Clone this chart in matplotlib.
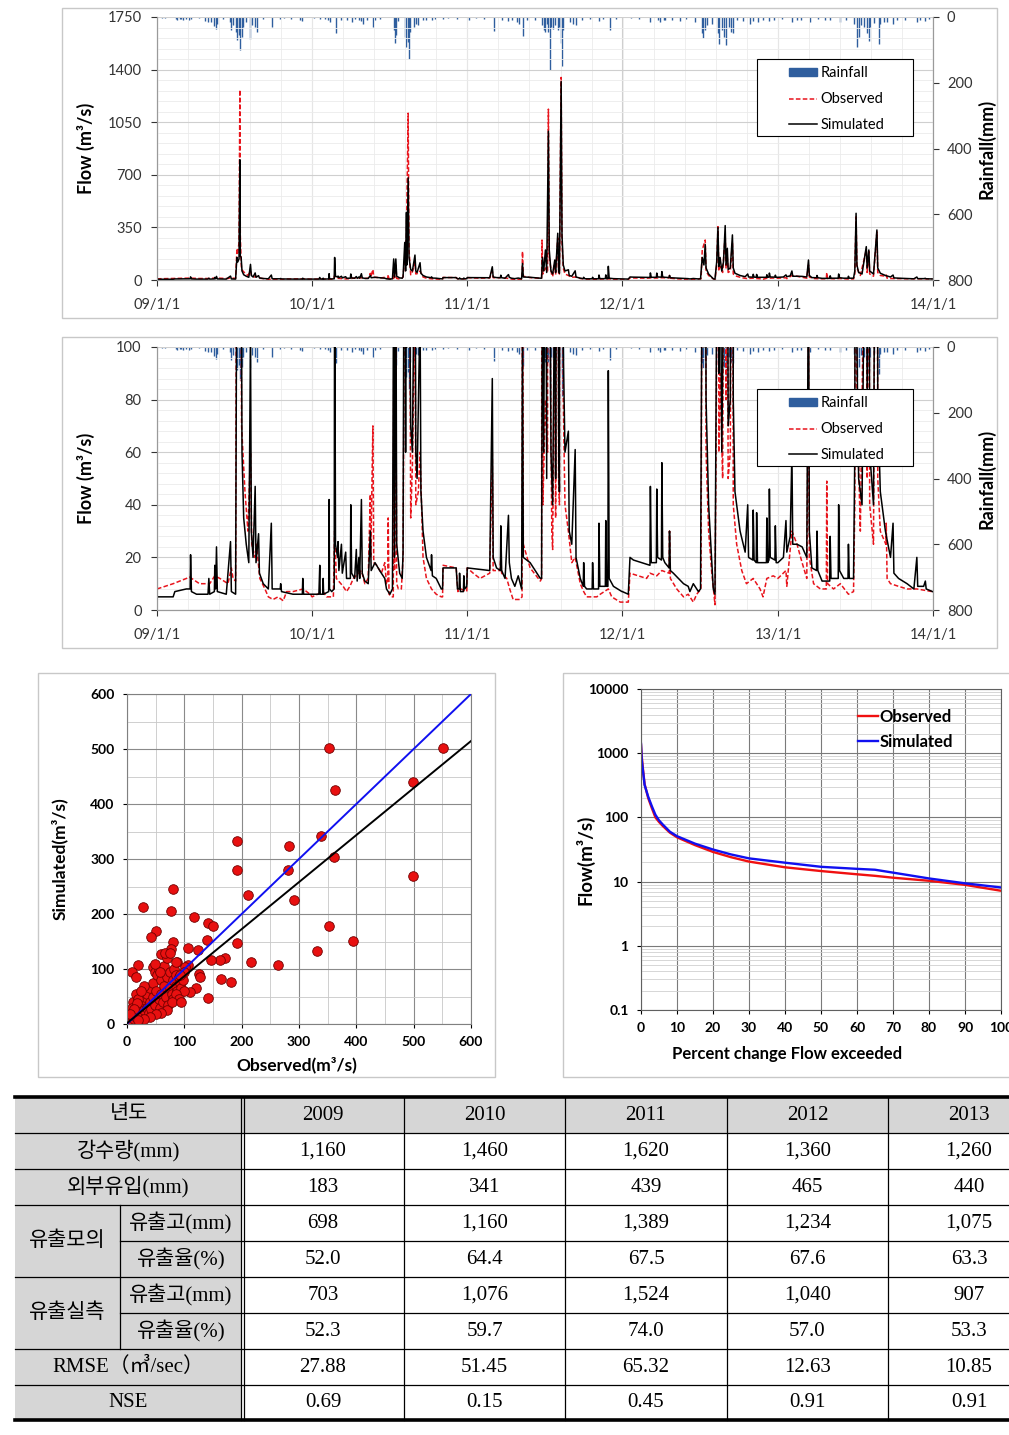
import numpy as np
import matplotlib
matplotlib.use('Agg')
import matplotlib.pyplot as plt
import matplotlib.dates as mdates
from matplotlib.patches import Rectangle
from matplotlib.lines import Line2D
from matplotlib.ticker import MultipleLocator, LogLocator, FuncFormatter, NullFormatter, FixedLocator

plt.rcParams['font.family'] = ['Lato', 'DejaVu Sans']

W, H = 1009, 1435

# daily flow: (year, day of year, m3/s)
sim_pts = [
    (2009, 0, 5), (2009, 38, 5), (2009, 42, 7), (2009, 69, 8), (2009, 78, 8), (2009, 79, 21), (2009, 81, 7),
    (2009, 93, 6), (2009, 120, 6), (2009, 122, 12), (2009, 124, 6), (2009, 135, 7), (2009, 136, 17), (2009, 138, 8),
    (2009, 140, 24), (2009, 142, 7), (2009, 163, 6), (2009, 173, 26), (2009, 175, 7), (2009, 185, 6), (2009, 188, 150),
    (2009, 190, 120), (2009, 193, 140), (2009, 195, 800), (2009, 196, 160), (2009, 198, 150), (2009, 200, 60),
    (2009, 204, 35), (2009, 210, 25), (2009, 216, 18), (2009, 220, 104), (2009, 222, 30), (2009, 226, 20),
    (2009, 231, 47), (2009, 233, 18), (2009, 239, 29), (2009, 241, 14), (2009, 250, 10), (2009, 262, 8),
    (2009, 269, 33), (2009, 271, 8), (2009, 290, 8), (2009, 291, 10), (2009, 293, 7), (2009, 320, 6), (2009, 342, 6),
    (2009, 343, 12), (2009, 345, 6), (2009, 364, 6),
    (2010, 0, 6), (2010, 16, 6), (2010, 18, 17), (2010, 19, 6), (2010, 25, 6), (2010, 26, 12), (2010, 27, 6),
    (2010, 39, 7), (2010, 40, 42), (2010, 41, 8), (2010, 46, 7), (2010, 52, 8), (2010, 53, 150), (2010, 55, 25),
    (2010, 60, 20), (2010, 61, 26), (2010, 63, 15), (2010, 69, 25), (2010, 71, 14), (2010, 79, 22), (2010, 81, 12),
    (2010, 90, 12), (2010, 91, 40), (2010, 93, 14), (2010, 100, 12), (2010, 104, 23), (2010, 106, 11), (2010, 110, 20),
    (2010, 112, 12), (2010, 116, 42), (2010, 118, 14), (2010, 124, 11), (2010, 132, 10), (2010, 137, 30),
    (2010, 139, 15), (2010, 148, 18), (2010, 159, 15), (2010, 171, 12), (2010, 175, 8), (2010, 183, 6), (2010, 189, 8),
    (2010, 192, 140), (2010, 194, 20), (2010, 197, 140), (2010, 199, 25), (2010, 206, 14), (2010, 212, 12),
    (2010, 214, 22), (2010, 218, 250), (2010, 220, 60), (2010, 222, 450), (2010, 223, 100), (2010, 226, 680),
    (2010, 228, 150), (2010, 232, 70), (2010, 236, 60), (2010, 242, 166), (2010, 244, 60), (2010, 247, 50),
    (2010, 254, 115), (2010, 256, 45), (2010, 261, 30), (2010, 269, 20), (2010, 280, 15), (2010, 281, 21),
    (2010, 283, 13), (2010, 292, 12), (2010, 304, 8), (2010, 307, 8), (2010, 308, 16), (2010, 339, 16), (2010, 342, 8),
    (2010, 346, 8), (2010, 347, 14), (2010, 349, 7), (2010, 356, 7), (2010, 357, 13), (2010, 359, 8), (2010, 364, 9),
    (2011, 0, 16), (2011, 53, 15), (2011, 59, 88), (2011, 61, 20), (2011, 69, 16), (2011, 78, 15), (2011, 79, 32),
    (2011, 81, 15), (2011, 89, 12), (2011, 97, 36), (2011, 99, 18), (2011, 104, 12), (2011, 112, 9), (2011, 120, 13),
    (2011, 128, 8), (2011, 130, 110), (2011, 132, 20), (2011, 148, 18), (2011, 172, 12), (2011, 175, 12),
    (2011, 177, 150), (2011, 180, 60), (2011, 184, 200), (2011, 187, 50), (2011, 191, 990), (2011, 193, 200),
    (2011, 197, 60), (2011, 201, 40), (2011, 206, 133), (2011, 208, 50), (2011, 213, 311), (2011, 215, 70),
    (2011, 217, 45), (2011, 221, 1320), (2011, 223, 300), (2011, 226, 100), (2011, 230, 60), (2011, 238, 68),
    (2011, 240, 30), (2011, 246, 25), (2011, 254, 61), (2011, 256, 20), (2011, 266, 12), (2011, 273, 9),
    (2011, 274, 18), (2011, 276, 9), (2011, 281, 8), (2011, 294, 8), (2011, 295, 18), (2011, 297, 8), (2011, 309, 8),
    (2011, 310, 33), (2011, 312, 9), (2011, 325, 9), (2011, 326, 34), (2011, 328, 9), (2011, 331, 9), (2011, 332, 91),
    (2011, 334, 12), (2011, 344, 9), (2011, 364, 7),
    (2012, 0, 7), (2012, 14, 6), (2012, 18, 20), (2012, 26, 19), (2012, 65, 17), (2012, 66, 47), (2012, 68, 18),
    (2012, 80, 18), (2012, 81, 46), (2012, 83, 20), (2012, 92, 19), (2012, 93, 56), (2012, 95, 20), (2012, 100, 18),
    (2012, 110, 16), (2012, 111, 30), (2012, 113, 15), (2012, 120, 14), (2012, 144, 10), (2012, 155, 9),
    (2012, 159, 7), (2012, 167, 10), (2012, 179, 7), (2012, 184, 8), (2012, 188, 150), (2012, 192, 100),
    (2012, 195, 236), (2012, 197, 80), (2012, 203, 40), (2012, 210, 20), (2012, 214, 8), (2012, 218, 6),
    (2012, 222, 120), (2012, 225, 349), (2012, 227, 90), (2012, 230, 150), (2012, 234, 60), (2012, 238, 120),
    (2012, 242, 362), (2012, 244, 100), (2012, 247, 211), (2012, 249, 70), (2012, 254, 80), (2012, 259, 300),
    (2012, 261, 80), (2012, 265, 45), (2012, 277, 30), (2012, 289, 22), (2012, 295, 40), (2012, 297, 20),
    (2012, 307, 19), (2012, 308, 38), (2012, 310, 19), (2012, 315, 18), (2012, 316, 37), (2012, 318, 18),
    (2012, 328, 18), (2012, 339, 18), (2012, 340, 35), (2012, 342, 18), (2012, 345, 19), (2012, 346, 46),
    (2012, 348, 20), (2012, 359, 19), (2012, 360, 32), (2012, 362, 18),
    (2013, 0, 18), (2013, 13, 20), (2013, 19, 34), (2013, 21, 22), (2013, 29, 28), (2013, 33, 60), (2013, 35, 25),
    (2013, 45, 25), (2013, 57, 24), (2013, 68, 20), (2013, 72, 133), (2013, 74, 30), (2013, 80, 16), (2013, 91, 15),
    (2013, 92, 30), (2013, 94, 15), (2013, 104, 11), (2013, 122, 11), (2013, 123, 28), (2013, 125, 12),
    (2013, 142, 12), (2013, 143, 40), (2013, 145, 15), (2013, 155, 12), (2013, 165, 12), (2013, 166, 25),
    (2013, 168, 12), (2013, 178, 12), (2013, 181, 60), (2013, 184, 444), (2013, 186, 100), (2013, 190, 50),
    (2013, 198, 40), (2013, 208, 222), (2013, 210, 80), (2013, 214, 200), (2013, 216, 60), (2013, 225, 40),
    (2013, 233, 333), (2013, 235, 80), (2013, 241, 45), (2013, 253, 30), (2013, 265, 20), (2013, 271, 33),
    (2013, 273, 14), (2013, 284, 12), (2013, 304, 10), (2013, 320, 8), (2013, 327, 20), (2013, 329, 9),
    (2013, 343, 9), (2013, 347, 11), (2013, 349, 8), (2013, 364, 7),
]

obs_pts = [
    (2009, 0, 8), (2009, 38, 10), (2009, 77, 12.5), (2009, 100, 10), (2009, 124, 10), (2009, 136, 13),
    (2009, 148, 12), (2009, 167, 10), (2009, 175, 16), (2009, 179, 12), (2009, 185, 11), (2009, 188, 200),
    (2009, 190, 180), (2009, 193, 250), (2009, 195, 1266), (2009, 196, 300), (2009, 198, 120), (2009, 199, 70),
    (2009, 207, 45), (2009, 214, 30), (2009, 220, 60), (2009, 223, 25), (2009, 230, 20), (2009, 234, 25),
    (2009, 242, 12), (2009, 254, 8), (2009, 262, 5), (2009, 273, 4), (2009, 285, 5), (2009, 297, 3.5),
    (2009, 305, 7), (2009, 320, 7), (2009, 344, 8), (2009, 360, 6),
    (2010, 0, 5), (2010, 26, 7), (2010, 34, 5), (2010, 50, 5), (2010, 53, 30), (2010, 57, 12), (2010, 73, 9),
    (2010, 81, 7), (2010, 89, 9), (2010, 97, 12), (2010, 116, 15), (2010, 124, 10), (2010, 132, 12), (2010, 137, 44),
    (2010, 138, 20), (2010, 143, 70), (2010, 145, 18), (2010, 152, 17), (2010, 163, 14), (2010, 171, 18),
    (2010, 175, 10), (2010, 178, 10), (2010, 179, 35), (2010, 181, 6), (2010, 187, 5), (2010, 191, 5),
    (2010, 192, 88), (2010, 194, 15), (2010, 197, 100), (2010, 199, 10), (2010, 203, 8), (2010, 210, 8),
    (2010, 214, 20), (2010, 218, 150), (2010, 222, 300), (2010, 226, 1110), (2010, 228, 200), (2010, 232, 35),
    (2010, 236, 55), (2010, 242, 120), (2010, 244, 40), (2010, 250, 45), (2010, 254, 60), (2010, 261, 20),
    (2010, 269, 12), (2010, 281, 8), (2010, 292, 6), (2010, 304, 5), (2010, 307, 5), (2010, 308, 17),
    (2010, 339, 16), (2010, 343, 7), (2010, 350, 8), (2010, 364, 7),
    (2011, 0, 16), (2011, 14, 14), (2011, 30, 12), (2011, 53, 14), (2011, 59, 60), (2011, 61, 15), (2011, 77, 15),
    (2011, 79, 20), (2011, 81, 14), (2011, 93, 12), (2011, 100, 8), (2011, 108, 4), (2011, 124, 4), (2011, 129, 5),
    (2011, 130, 190), (2011, 132, 25), (2011, 148, 16), (2011, 172, 11), (2011, 175, 12), (2011, 176, 266),
    (2011, 178, 40), (2011, 184, 80), (2011, 189, 60), (2011, 191, 1137), (2011, 193, 150), (2011, 199, 30),
    (2011, 201, 23), (2011, 206, 120), (2011, 208, 35), (2011, 213, 280), (2011, 215, 50), (2011, 217, 40),
    (2011, 221, 1348), (2011, 223, 250), (2011, 226, 80), (2011, 230, 40), (2011, 238, 30), (2011, 246, 18),
    (2011, 254, 20), (2011, 266, 10), (2011, 274, 7), (2011, 281, 5), (2011, 305, 5), (2011, 313, 6),
    (2011, 332, 8), (2011, 340, 5), (2011, 360, 3),
    (2012, 0, 3), (2012, 14, 3), (2012, 18, 14), (2012, 57, 12), (2012, 65, 14), (2012, 81, 13), (2012, 93, 15),
    (2012, 110, 14), (2012, 111, 30), (2012, 113, 12), (2012, 128, 8), (2012, 144, 5), (2012, 155, 6),
    (2012, 167, 3), (2012, 175, 6), (2012, 185, 8), (2012, 186, 55), (2012, 188, 200), (2012, 195, 266),
    (2012, 197, 60), (2012, 203, 30), (2012, 210, 15), (2012, 218, 2), (2012, 222, 100), (2012, 225, 355),
    (2012, 227, 60), (2012, 230, 90), (2012, 236, 50), (2012, 242, 300), (2012, 244, 80), (2012, 247, 150),
    (2012, 249, 50), (2012, 254, 60), (2012, 259, 250), (2012, 261, 40), (2012, 269, 25), (2012, 281, 15),
    (2012, 292, 10), (2012, 308, 12), (2012, 324, 8), (2012, 331, 5), (2012, 340, 12), (2012, 355, 13),
    (2013, 0, 12), (2013, 19, 15), (2013, 21, 9), (2013, 33, 30), (2013, 45, 25), (2013, 57, 18), (2013, 68, 12),
    (2013, 72, 100), (2013, 74, 20), (2013, 84, 10), (2013, 100, 8), (2013, 114, 8), (2013, 115, 49),
    (2013, 117, 10), (2013, 131, 8), (2013, 147, 10), (2013, 166, 6), (2013, 178, 7), (2013, 181, 40),
    (2013, 184, 420), (2013, 186, 80), (2013, 194, 30), (2013, 208, 200), (2013, 210, 50), (2013, 214, 190),
    (2013, 216, 40), (2013, 225, 25), (2013, 233, 320), (2013, 235, 50), (2013, 241, 30), (2013, 254, 25),
    (2013, 255, 33), (2013, 257, 12), (2013, 265, 10), (2013, 284, 9), (2013, 304, 8), (2013, 327, 8),
    (2013, 363, 7),
]

# daily rainfall (year, day of year, mm)
rain_pts = [
    (2009, 12, 3), (2009, 19, 3), (2009, 45, 5), (2009, 47, 8), (2009, 53, 6), (2009, 57, 6), (2009, 61, 8),
    (2009, 69, 5), (2009, 75, 10), (2009, 81, 7), (2009, 100, 4), (2009, 113, 12), (2009, 120, 15),
    (2009, 128, 15), (2009, 133, 28), (2009, 138, 38), (2009, 141, 20), (2009, 155, 5), (2009, 171, 15),
    (2009, 175, 40), (2009, 179, 25), (2009, 187, 45), (2009, 189, 70), (2009, 192, 55), (2009, 195, 99),
    (2009, 199, 60), (2009, 203, 30), (2009, 210, 15), (2009, 218, 67), (2009, 224, 25), (2009, 230, 30),
    (2009, 235, 45), (2009, 250, 5), (2009, 271, 30), (2009, 289, 5), (2009, 300, 4), (2009, 315, 6),
    (2009, 336, 8), (2009, 342, 12),
    (2010, 5, 4), (2010, 18, 6), (2010, 30, 5), (2010, 37, 10), (2010, 42, 15), (2010, 56, 49), (2010, 69, 8),
    (2010, 81, 10), (2010, 93, 15), (2010, 100, 6), (2010, 110, 8), (2010, 116, 12), (2010, 120, 20),
    (2010, 130, 10), (2010, 143, 30), (2010, 148, 8), (2010, 160, 6), (2010, 193, 40), (2010, 195, 80),
    (2010, 197, 55), (2010, 203, 12), (2010, 218, 60), (2010, 222, 90), (2010, 225, 75), (2010, 227, 127),
    (2010, 230, 45), (2010, 240, 30), (2010, 244, 20), (2010, 250, 25), (2010, 261, 10), (2010, 269, 8),
    (2010, 281, 10), (2010, 290, 6), (2010, 308, 5), (2010, 320, 4), (2010, 340, 5),
    (2011, 3, 10), (2011, 20, 4), (2011, 40, 5), (2011, 62, 42), (2011, 81, 8), (2011, 97, 12), (2011, 105, 10),
    (2011, 116, 15), (2011, 122, 20), (2011, 132, 59), (2011, 140, 8), (2011, 160, 10), (2011, 175, 25),
    (2011, 180, 40), (2011, 184, 45), (2011, 187, 20), (2011, 191, 45), (2011, 194, 160), (2011, 197, 30),
    (2011, 203, 35), (2011, 207, 25), (2011, 213, 40), (2011, 217, 30), (2011, 221, 80), (2011, 222, 150),
    (2011, 226, 40), (2011, 242, 15), (2011, 250, 20), (2011, 256, 25), (2011, 270, 8), (2011, 290, 6),
    (2011, 309, 12), (2011, 320, 5), (2011, 336, 39), (2011, 350, 6),
    (2012, 20, 4), (2012, 40, 5), (2012, 65, 15), (2012, 85, 10), (2012, 89, 15), (2012, 97, 8), (2012, 100, 8),
    (2012, 116, 10), (2012, 136, 12), (2012, 150, 6), (2012, 170, 15), (2012, 187, 50), (2012, 189, 64),
    (2012, 195, 40), (2012, 199, 25), (2012, 210, 20), (2012, 226, 50), (2012, 228, 82), (2012, 234, 40),
    (2012, 239, 60), (2012, 244, 84), (2012, 250, 30), (2012, 255, 45), (2012, 261, 49), (2012, 270, 10),
    (2012, 285, 12), (2012, 301, 20), (2012, 308, 12), (2012, 320, 15), (2012, 332, 10), (2012, 344, 12),
    (2012, 356, 10),
    (2013, 10, 5), (2013, 33, 15), (2013, 45, 10), (2013, 55, 8), (2013, 76, 15), (2013, 95, 6), (2013, 110, 8),
    (2013, 123, 10), (2013, 147, 15), (2013, 160, 10), (2013, 178, 20), (2013, 186, 92), (2013, 190, 60),
    (2013, 195, 25), (2013, 202, 30), (2013, 210, 50), (2013, 214, 74), (2013, 217, 30), (2013, 225, 18),
    (2013, 237, 82), (2013, 241, 20), (2013, 250, 15), (2013, 257, 15), (2013, 272, 20), (2013, 280, 10),
    (2013, 300, 8), (2013, 327, 15), (2013, 335, 10), (2013, 347, 12), (2013, 355, 6),
]

# scatter of daily flows (observed, simulated)
obs_q = [353, 552, 363, 498, 339, 282, 361, 191, 192, 280, 499, 211, 292, 81, 28, 76, 117, 142, 150, 352,
         51, 41, 140, 80, 192, 394, 331, 106, 124, 59, 77, 171, 163, 146, 216, 264, 106, 87, 19, 8, 15,
         126, 127, 164, 182, 120, 110, 142, 46, 49, 102,
         2, 3, 5, 6, 8, 10, 12, 14, 15, 18, 20, 22, 25, 25, 28, 30, 32, 35, 35, 38, 40, 40, 42, 45, 45, 48,
         50, 52, 55, 55, 58, 60, 60, 62, 65, 65, 68, 70, 70, 72, 75, 75, 78, 80, 80, 82, 85, 85, 88, 90, 92,
         95, 98, 100, 10, 15, 20, 8, 30, 25, 18, 12, 5, 48, 58, 66, 75, 86, 92, 100, 70, 60, 50, 40, 30, 20,
         85, 90, 78, 95]
sim_q = [501, 502, 425, 440, 342, 324, 304, 333, 280, 280, 269, 235, 225, 246, 212, 205, 194, 183, 179, 178,
         170, 158, 153, 150, 148, 151, 132, 139, 134, 128, 136, 120, 116, 117, 113, 107, 108, 112, 107, 95, 86,
         91, 85, 81, 76, 66, 59, 47, 104, 94, 104,
         5, 8, 4, 10, 6, 15, 9, 20, 12, 25, 15, 30, 20, 35, 45, 25, 50, 30, 55, 20, 40, 65, 28, 50, 75, 35,
         60, 90, 45, 100, 30, 55, 80, 40, 70, 105, 50, 85, 120, 35, 65, 95, 55, 80, 45, 100, 70, 90, 60, 85, 75,
         65, 80, 95, 40, 55, 45, 30, 70, 60, 38, 28, 18, 110, 95, 130, 130, 112, 90, 60, 25, 20, 18, 12, 10, 8,
         55, 45, 40, 40]
fit_slope, fit_icpt = 0.855, 1.5

# flow duration curve
fdc_pct = [0, 0.2, 0.5, 1, 2, 3, 4, 5, 6, 8, 10, 15, 20, 25, 30, 40, 50, 60, 65, 70, 80, 90, 100]
fdc_obs = [1350, 900, 600, 330, 200, 140, 100, 85, 74, 58, 49, 37, 29, 24, 20.5, 16.7, 14.6, 13, 12.3, 11.5,
           10.3, 8.9, 7.2]
fdc_sim = [1400, 800, 560, 320, 210, 150, 110, 90, 78, 60, 51, 39, 31.6, 26.5, 23, 19.7, 17, 15.8, 15.3, 13.8,
           11.2, 9.4, 8.1]

# table
years = ['2009', '2010', '2011', '2012', '2013']
rain_mm = ['1,160', '1,460', '1,620', '1,360', '1,260']
inflow_mm = ['183', '341', '439', '465', '440']
sim_runoff = ['698', '1,160', '1,389', '1,234', '1,075']
sim_ratio = ['52.0', '64.4', '67.5', '67.6', '63.3']
obs_runoff = ['703', '1,076', '1,524', '1,040', '907']
obs_ratio = ['52.3', '59.7', '74.0', '57.0', '53.3']
rmse = ['27.88', '51.45', '65.32', '12.63', '10.85']
nse = ['0.69', '0.15', '0.45', '0.91', '0.91']


def to_series(pts):
    d = np.array([np.datetime64(f'{y}-01-01') + np.timedelta64(k, 'D') for y, k, v in pts])
    v = np.array([p[2] for p in pts], dtype=float)
    return d, v


def box(l, t, r, b):
    return [l / W, 1 - b / H, (r - l) / W, (b - t) / H]


sim_d, sim_v = to_series(sim_pts)
obs_d, obs_v = to_series(obs_pts)
rain_d, rain_v = to_series(rain_pts)

fig = plt.figure(figsize=(W / 100, H / 100), dpi=100)

bg = fig.add_axes([0, 0, 1, 1])
bg.set_xlim(0, W)
bg.set_ylim(H, 0)
bg.axis('off')
for l, t, r, b in [(62, 8, 997, 318), (62, 337, 997, 648), (38, 673, 495, 1077), (563, 673, 1030, 1077)]:
    bg.add_patch(Rectangle((l, t), r - l, b - t, fill=False, ec='#C8C8C8', lw=1))

GRID = '#CFCFCF'
GRID_MINOR = '#EBEBEB'
RAIN_C = '#2F5E9E'
OBS_C = '#E8141C'
t0, t1 = np.datetime64('2009-01-01'), np.datetime64('2014-01-01')
n0, n1 = mdates.date2num(t0), mdates.date2num(t1)


def ts_panel(rect, ymax, ystep):
    ax = fig.add_axes(box(*rect))
    axr = ax.twinx()
    ax.set_zorder(axr.get_zorder() + 1)
    ax.patch.set_visible(False)

    axr.vlines(rain_d, 0, rain_v, color=RAIN_C, lw=1.0)
    axr.set_ylim(800, 0)
    axr.set_yticks(range(0, 801, 200))
    axr.tick_params(axis='y', labelsize=10.5, length=4, pad=6, colors='#333333')
    axr.set_ylabel('Rainfall(mm)', fontsize=13, fontweight='bold')
    axr.yaxis.set_label_coords(1.057, 0.5)

    ax.plot(obs_d, obs_v, color=OBS_C, lw=1.1, ls=(0, (3, 1.5)))
    ax.plot(sim_d, sim_v, color='black', lw=1.1)
    ax.set_xlim(t0, t1)
    ax.set_ylim(0, ymax)
    ax.yaxis.set_major_locator(MultipleLocator(ystep))
    ax.yaxis.set_minor_locator(MultipleLocator(ystep / 5))
    ax.xaxis.set_major_locator(mdates.YearLocator())
    ax.xaxis.set_minor_locator(FixedLocator(np.linspace(n0, n1, 26)))
    ax.xaxis.set_major_formatter(FuncFormatter(lambda x, p: f'{mdates.num2date(x).year % 100:02d}/1/1'))
    ax.grid(which='major', color=GRID, lw=0.8)
    ax.grid(which='minor', color=GRID_MINOR, lw=0.6)
    ax.set_axisbelow(True)
    ax.tick_params(axis='both', which='major', labelsize=10.5, length=4, pad=7, colors='#333333')
    ax.tick_params(axis='x', which='major', pad=9)
    ax.tick_params(axis='both', which='minor', length=0)
    ax.set_ylabel('Flow (m³/s)', fontsize=13, fontweight='bold')
    ax.yaxis.set_label_coords(-0.080, 0.5)
    for a in (ax, axr):
        for s in a.spines.values():
            s.set_color('#9A9A9A')
        a.spines['top'].set_visible(False)

    ax.add_patch(Rectangle((0.7732, 0.5475), 0.201, 0.2928, transform=ax.transAxes,
                           fc='white', ec='black', lw=0.8, zorder=4))
    handles = [Rectangle((0, 0), 1, 1, color=RAIN_C),
               Line2D([], [], color=OBS_C, lw=1.1, ls=(0, (3, 1.5))),
               Line2D([], [], color='black', lw=1.1)]
    ax.legend(handles, ['Rainfall', 'Observed', 'Simulated'], loc='upper left',
              bbox_to_anchor=(0.8144, 0.812), fontsize=10.5, frameon=False,
              borderpad=0, labelspacing=0.8, handlelength=1.9, handleheight=0.45,
              handletextpad=0.25, borderaxespad=0)
    return ax


ts_panel((157, 17, 933, 280), 1750, 350)
ts_panel((157, 347, 933, 610), 100, 20)

# scatter
ax3 = fig.add_axes(box(127, 694, 471, 1024))
ax3.set_xlim(0, 600)
ax3.set_ylim(0, 600)
ax3.scatter(obs_q, sim_q, s=48, color='#E81010', edgecolors='#700000', linewidths=0.6, zorder=2)
xs = np.array(ax3.get_xlim())
ax3.plot(xs, xs, color='#1010F0', lw=1.4, zorder=3)
ax3.plot(xs, fit_slope * xs + fit_icpt, color='black', lw=1.4, zorder=3)
for axis in (ax3.xaxis, ax3.yaxis):
    axis.set_major_locator(MultipleLocator(100))
    axis.set_minor_locator(MultipleLocator(50))
ax3.grid(which='major', color='#8A8A8A', lw=0.8)
ax3.grid(which='minor', color='#C8C8C8', lw=0.6)
ax3.set_axisbelow(True)
ax3.tick_params(which='major', labelsize=10, length=3, pad=6)
ax3.tick_params(which='minor', length=0)
for lab in ax3.get_xticklabels() + ax3.get_yticklabels():
    lab.set_fontweight('bold')
for s in ax3.spines.values():
    s.set_color('#808080')
ax3.set_xlabel('Observed(m³/s)', fontsize=12.5, fontweight='bold')
ax3.xaxis.set_label_coords(0.494, -0.098)
ax3.set_ylabel('Simulated(m³/s)', fontsize=12.5, fontweight='bold')
ax3.yaxis.set_label_coords(-0.172, 0.5)

# flow duration curve
ax4 = fig.add_axes(box(641, 689, 1001, 1010))
ax4.plot(fdc_pct, fdc_obs, color='#F01010', lw=1.7, label='Observed')
ax4.plot(fdc_pct, fdc_sim, color='#1010F0', lw=1.7, label='Simulated')
ax4.set_yscale('log')
ax4.set_ylim(0.1, 10000)
ax4.set_xlim(0, 100)
ax4.xaxis.set_major_locator(MultipleLocator(10))
ax4.yaxis.set_major_locator(LogLocator(base=10, numticks=10))
ax4.yaxis.set_minor_locator(LogLocator(base=10, subs=np.arange(2, 10), numticks=10))
ax4.yaxis.set_major_formatter(FuncFormatter(lambda v, p: f'{v:g}'))
ax4.yaxis.set_minor_formatter(NullFormatter())
ax4.grid(which='major', color='#7A7A7A', lw=0.8)
ax4.grid(which='minor', axis='y', color='#D0D0D0', lw=0.6)
ax4.set_axisbelow(True)
ax4.tick_params(which='major', labelsize=10, length=3, pad=6)
ax4.tick_params(which='minor', length=0)
for lab in ax4.get_xticklabels() + ax4.get_yticklabels():
    lab.set_fontweight('bold')
for s in ax4.spines.values():
    s.set_color('#606060')
ax4.set_xlabel('Percent change Flow exceeded', fontsize=12, fontweight='bold')
ax4.xaxis.set_label_coords(0.406, -0.113)
ax4.set_ylabel('Flow(m³/s)', fontsize=13.5, fontweight='bold')
ax4.yaxis.set_label_coords(-0.128, 0.467)
ax4.legend(loc='upper left', bbox_to_anchor=(0.603, 0.937), frameon=False, handlelength=1.2,
           handletextpad=0.1, labelspacing=0.52, borderpad=0, borderaxespad=0,
           prop={'weight': 'bold', 'size': 12})

# table
tfont = dict(family=['Liberation Serif', 'Noto Sans CJK KR'], fontsize=15, ha='center', va='center')
row_y = [1097, 1133, 1169, 1205, 1241, 1277, 1313, 1349, 1385, 1420]
col_x = [242, 404, 565, 727, 888, 1050]
TL, TR, SUB = 15, 1050, 120
GRAY = '#D6D6D6'
bg.add_patch(Rectangle((TL, row_y[0]), TR - TL, row_y[1] - row_y[0], color=GRAY, lw=0))
bg.add_patch(Rectangle((TL, row_y[1]), col_x[0] - TL, row_y[-1] - row_y[1], color=GRAY, lw=0))
for i, y in enumerate(row_y[1:-1], start=1):
    x_start = SUB if i in (4, 6) else TL
    bg.plot([x_start, TR], [y, y], color='black', lw=0.9)
bg.plot([TL, TR], [row_y[0], row_y[0]], color='black', lw=2.6)
bg.plot([TL, TR], [row_y[-1], row_y[-1]], color='black', lw=2.6)
bg.plot([col_x[0] - 1.5, col_x[0] - 1.5], [row_y[0], row_y[-1]], color='black', lw=0.9)
bg.plot([col_x[0] + 1.5, col_x[0] + 1.5], [row_y[0], row_y[-1]], color='black', lw=0.9)
for x in col_x[1:-1]:
    bg.plot([x, x], [row_y[0], row_y[-1]], color='black', lw=0.9)
bg.plot([SUB, SUB], [row_y[3], row_y[7]], color='black', lw=0.9)

labels = ['년도', '강수량(mm)', '외부유입(mm)', None, None, None, None, 'RMSE（㎥/sec）', 'NSE']
sub_labels = {3: '유출고(mm)', 4: '유출율(%)', 5: '유출고(mm)', 6: '유출율(%)'}
rows = [years, rain_mm, inflow_mm, sim_runoff, sim_ratio, obs_runoff, obs_ratio, rmse, nse]
for i, vals in enumerate(rows):
    yc = (row_y[i] + row_y[i + 1]) / 2
    if labels[i] is not None:
        bg.text((TL + col_x[0]) / 2, yc, labels[i], **tfont)
    else:
        bg.text((SUB + col_x[0]) / 2, yc, sub_labels[i], **tfont)
    for j, v in enumerate(vals):
        bg.text((col_x[j] + col_x[j + 1]) / 2, yc, v, **tfont)
bg.text((TL + SUB) / 2, row_y[4], '유출모의', **tfont)
bg.text((TL + SUB) / 2, row_y[6], '유출실측', **tfont)

plt.savefig('out.png', dpi=100)
